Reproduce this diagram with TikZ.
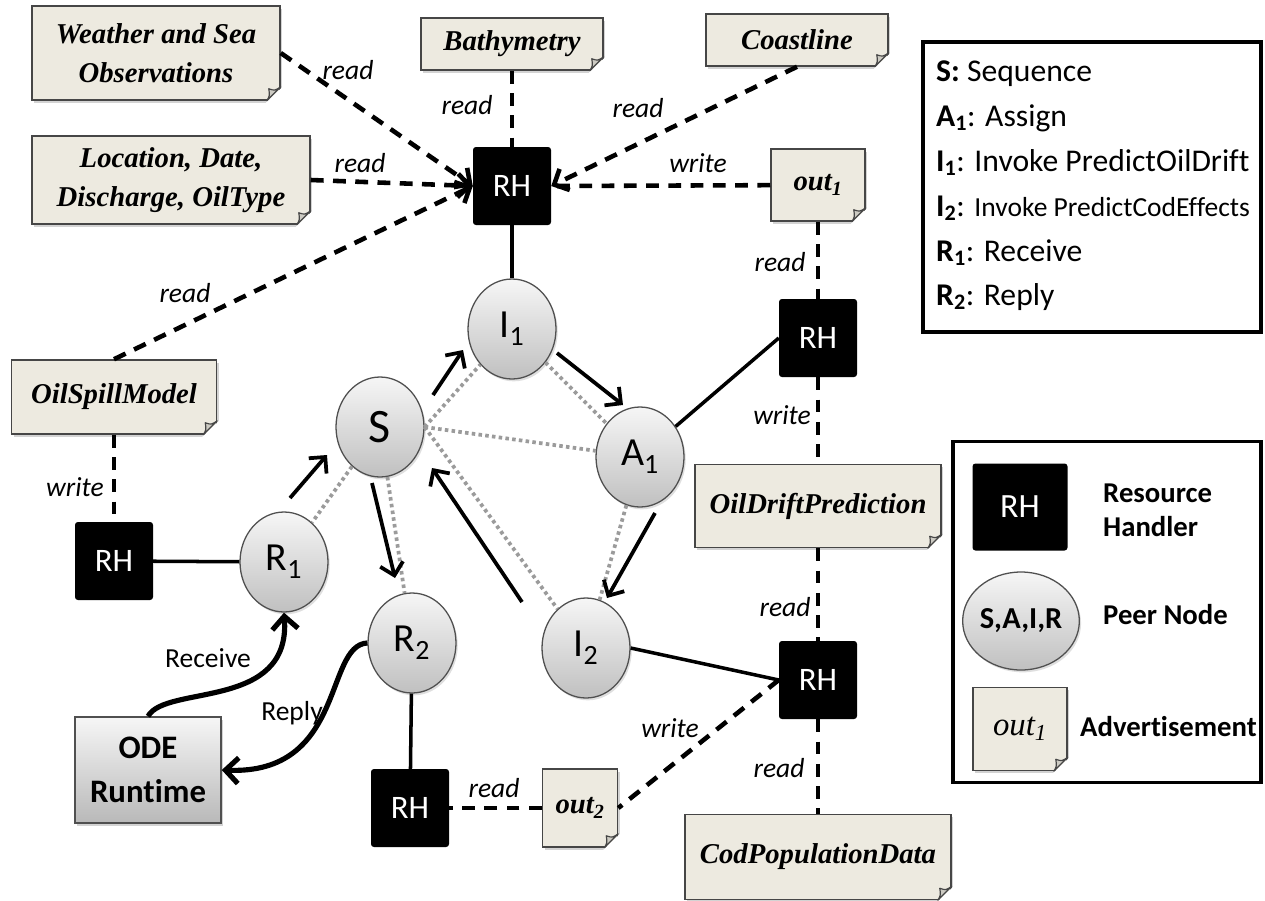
\documentclass[tikz,border=0pt]{standalone}
\usepackage{fontspec}
\setmainfont{Carlito}[Ligatures=NoCommon]
\newfontfamily\timesfont{Liberation Serif}
\usetikzlibrary{positioning,arrows.meta,shapes.geometric,shadows,calc}

\newlength\pxu
\setlength\pxu{0.3mm}

\definecolor{notefill}{RGB}{237,234,224}
\definecolor{noteline}{RGB}{70,70,70}
\definecolor{foldfill}{RGB}{205,203,195}
\definecolor{peertop}{RGB}{246,246,246}
\definecolor{peerbottom}{RGB}{192,192,192}
\definecolor{peerline}{RGB}{80,80,80}
\definecolor{linkgray}{RGB}{155,155,155}

\begin{document}
\begin{tikzpicture}[x=0.3mm,y=-0.3mm,>={Straight Barb[length=10pt,width=20pt]},
  rh node/.style={fill=black,rounded corners=2.5pt,text=white,inner sep=0pt,
    minimum width=78\pxu,minimum height=78\pxu,font=\fontsize{28}{32}\selectfont},
  peer node/.style={ellipse,draw=peerline,line width=1.1pt,top color=peertop,
    bottom color=peerbottom,inner sep=0pt,minimum width=88\pxu,minimum height=100\pxu,
    font=\fontsize{34}{38}\selectfont,
    drop shadow={opacity=.25,shadow xshift=1.5pt,shadow yshift=-2pt}},
  ad node/.style={draw=noteline,line width=1.3pt,fill=notefill,align=center,inner sep=0pt,
    font=\timesfont\bfseries\itshape\fontsize{24.5}{33}\selectfont,
    drop shadow={opacity=.35,shadow xshift=2pt,shadow yshift=-2.5pt}},
  runtime node/.style={draw=peerline,line width=1.3pt,top color=peertop,bottom color=gray!55,
    align=center,inner sep=0pt,minimum width=146\pxu,minimum height=106\pxu,
    font=\bfseries\fontsize{28}{38}\selectfont,
    drop shadow={opacity=.35,shadow xshift=2pt,shadow yshift=-2.5pt}},
  key box/.style={draw,line width=2.8pt,fill=white,inner sep=0pt},
  key text/.style={anchor=base west,inner sep=0pt,font=\fontsize{27}{32}\selectfont},
  key bold/.style={anchor=west,inner sep=0pt,align=left,font=\bfseries\fontsize{24.5}{29}\selectfont},
  rw line/.style={line width=3.9pt,dash pattern=on 11pt off 8pt},
  peer link/.style={color=linkgray,line width=3.2pt,dash pattern=on 3pt off 2.8pt},
  link/.style={line width=3pt},
  flow/.style={->,line width=3.2pt},
  call/.style={-{Straight Barb[length=11pt,width=22pt]},line width=4.4pt},
  lbl/.style={inner sep=0pt,font=\itshape\fontsize{23.5}{26}\selectfont}]

  \useasboundingbox (0,0) rectangle (1265,900);

  % advertisements
  \node[ad node,minimum width=248\pxu,minimum height=94\pxu] (wso) at (156,53) {Weather and Sea\\Observations};
  \node[ad node,minimum width=278\pxu,minimum height=88\pxu] (ldd) at (171,180) {Location, Date,\\Discharge, OilType};
  \node[ad node,minimum width=182\pxu,minimum height=52\pxu] (bathy) at (512,44) {Bathymetry};
  \node[ad node,minimum width=182\pxu,minimum height=52\pxu] (coast) at (797,40) {Coastline};
  \node[ad node,minimum width=94\pxu,minimum height=72\pxu] (out1) at (818,185) {out\textsubscript{1}};
  \node[ad node,minimum width=205\pxu,minimum height=74\pxu] (osm) at (114,397) {OilSpillModel};
  \node[ad node,minimum width=246\pxu,minimum height=83\pxu] (odp) at (818,506) {OilDriftPrediction};
  \node[ad node,minimum width=266\pxu,minimum height=85\pxu] (cpd) at (818,857) {CodPopulationData};
  \node[ad node,minimum width=75\pxu,minimum height=78\pxu] (out2) at (580,808) {out\textsubscript{2}};

  % resource handlers
  \node[rh node] (rhtop) at (512,186) {RH};
  \node[rh node] (rhdrift) at (818,338) {RH};
  \node[rh node] (rhcod) at (818,680) {RH};
  \node[rh node] (rhspill) at (114,561) {RH};
  \node[rh node] (rhreply) at (410,808) {RH};

  % peer nodes
  \node[peer node] (I1) at (512,329) {I\textsubscript{1}};
  \node[peer node,font=\fontsize{41}{44}\selectfont] (S) at (380,427) {S};
  \node[peer node] (A1) at (640,457) {A\textsubscript{1}};
  \node[peer node] (R1) at (284,562) {R\textsubscript{1}};
  \node[peer node] (R2) at (412,643) {R\textsubscript{2}};
  \node[peer node] (I2) at (586,648) {I\textsubscript{2}};

  \node[runtime node] (ode) at (148,770) {ODE\\Runtime};

  % legend
  \node[key box,minimum width=338\pxu,minimum height=290\pxu] (keytop) at (1092,187) {};
  \node[key text] (k1) at (936,81) {\textbf{S:} Sequence};
  \node[key text] (k2) at (936,126) {\textbf{A\textsubscript{1}}: Assign};
  \node[key text] (k3) at (936,171) {\textbf{I\textsubscript{1}}: Invoke PredictOilDrift};
  \node[key text] (k4) at (936,216) {\textbf{I\textsubscript{2}}: {\fontsize{23.5}{28}\selectfont Invoke PredictCodEffects}};
  \node[key text] (k5) at (936,261) {\textbf{R\textsubscript{1}}: Receive};
  \node[key text] (k6) at (936,305) {\textbf{R\textsubscript{2}}: Reply};

  \node[key box,minimum width=308\pxu,minimum height=341\pxu] (keybot) at (1107,612) {};
  \node[rh node,minimum width=95\pxu,minimum height=87\pxu,font=\fontsize{29}{32}\selectfont] (keyrh) at (1020,507) {RH};
  \node[key bold] (keyrhtext) at (1103,510) {Resource\\Handler};
  \node[peer node,minimum width=94\pxu,minimum height=98\pxu,font=\bfseries\fontsize{26}{30}\selectfont] (keypeer) at (1021,621) {S,A,I,R};
  \node[key bold] (keypeertext) at (1103,615) {Peer Node};
  \node[ad node,minimum width=94\pxu,minimum height=83\pxu,font=\timesfont\itshape\fontsize{28}{30}\selectfont] (keyad) at (1020,729) {out\textsubscript{1}};
  \node[key bold] (keyadtext) at (1080,727) {Advertisement};

  % folded corners
  \foreach \n in {wso,ldd,bathy,coast,out1,osm,odp,cpd,out2,keyad}{
    \fill[white] ($(\n.south east)+(-15,2)$) -- ($(\n.south east)+(3,2)$) -- ($(\n.south east)+(3,-15)$) -- cycle;
    \filldraw[fill=foldfill,draw=noteline,line width=1pt,line join=round]
      ($(\n.south east)+(-14,0)$) .. controls ($(\n.south east)+(-11,-5)$) .. ($(\n.south east)+(-12,-12)$)
      .. controls ($(\n.south east)+(-6,-10)$) .. ($(\n.south east)+(0,-14)$) -- cycle;
  }

  % read / write links
  \path[rw line]
    (wso.east) edge[->] (rhtop.west)
    (ldd.east) edge[->] (rhtop.west)
    (osm.north) edge[->] (rhtop.west)
    (bathy) edge (rhtop)
    (coast.south) edge[->] (rhtop.east)
    (out1) edge (rhtop.east)
    (out1) edge (rhdrift)
    (rhdrift) edge (odp)
    (odp) edge (rhcod)
    (rhcod) edge (cpd)
    (rhcod.west) edge (out2.east)
    (out2) edge (rhreply)
    (osm) edge (rhspill);

  \node[lbl] (lwso) at (348,70) {read};
  \node[lbl] (lldd) at (360,163) {read};
  \node[lbl] (losm) at (185,293) {read};
  \node[lbl] (lbathy) at (467,105) {read};
  \node[lbl] (lcoast) at (638,108) {read};
  \node[lbl] (lout1) at (698,163) {write};
  \node[lbl] (ldrift1) at (780,262) {read};
  \node[lbl] (ldrift2) at (782,415) {write};
  \node[lbl] (lcod1) at (785,607) {read};
  \node[lbl] (lcod2) at (779,768) {read};
  \node[lbl] (lout2a) at (670,728) {write};
  \node[lbl] (lout2b) at (494,788) {read};
  \node[lbl] (lspill) at (75,487) {write};

  % peer links
  \path[peer link]
    (S.east) edge (I1)
    (S.east) edge (A1)
    (S.east) edge (I2)
    (S) edge (R1)
    (S) edge (R2)
    (I1) edge (A1)
    (A1) edge (I2);

  % handler links
  \path[link]
    (rhtop) edge (I1)
    (A1) edge (rhdrift.west)
    (I2.east) edge (rhcod.west)
    (rhspill) edge (R1)
    (R2) edge (rhreply);

  % control flow
  \draw[flow] ($(R1)+(6,-64)$) -- ($(S)+(-53,28)$);
  \draw[flow] ($(S)+(53,-32)$) -- ($(I1)+(-49,21)$);
  \draw[flow] ($(I1)+(45,24)$) -- ($(A1)+(-17,-52)$);
  \draw[flow] ($(A1)+(15,56)$) -- ($(I2)+(21,-50)$);
  \draw[flow] ($(I2)+(-64,-46)$) -- ($(S)+(52,41)$);
  \draw[flow] ($(S)+(-8,56)$) -- ($(R2)+(-17,-65)$);

  \draw[call] (ode.north) .. controls +(18,-32) and +(7,98) .. (R1.south);
  \draw[call] (R2.west) .. controls +(-43,2) and +(124,5) .. (ode.east);
  \node[font=\fontsize{23.5}{26}\selectfont,inner sep=0pt] (lrecv) at (208,658) {Receive};
  \node[font=\fontsize{23.5}{26}\selectfont,inner sep=0pt] (lreply) at (292,713) {Reply};
\end{tikzpicture}
\end{document}
